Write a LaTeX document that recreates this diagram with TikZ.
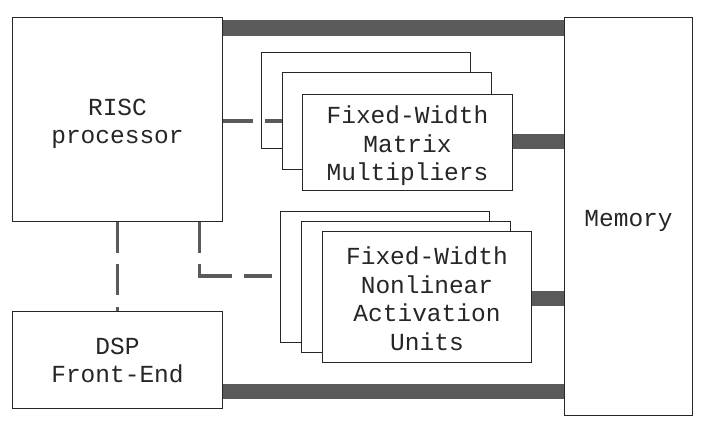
\documentclass[tikz,border=0pt]{standalone}
\usepackage{fontspec}
\setmonofont{Liberation Mono}
\definecolor{busgray}{RGB}{90,90,90}
\newcommand\btext[2][3pt]{\raisebox{-#1}[\height][\depth]{\begin{tabular}{@{}c@{}}#2\end{tabular}}}
\begin{document}
\begin{tikzpicture}[x=1pt,y=-1pt,
  box/.style={draw=black!85, line width=1pt, fill=white, inner sep=0pt,
    anchor=north west, align=center, text=black!85,
    font=\ttfamily\fontsize{24.5}{28.5}\selectfont},
  bus/.style={draw=busgray, line width=15.5pt},
  dashline/.style={draw=busgray, line width=3.5pt}]
\useasboundingbox (0,0) rectangle (706,425);
% main blocks
\node[box, minimum width=210pt, minimum height=204pt] (risc) at (12,17) {\btext[4.5pt]{RISC\\processor}};
\node[box, minimum width=128pt, minimum height=398pt] (mem) at (564,17) {\btext[4pt]{Memory}};
\node[box, minimum width=210pt, minimum height=97pt] (dsp) at (12,311) {\btext[3pt]{DSP\\Front-End}};
% matrix multiplier stack
\node[box, minimum width=209pt, minimum height=96pt] (mb) at (261,52) {};
\node[box, minimum width=209pt, minimum height=97pt] (mm) at (282,72) {};
\node[box, minimum width=210pt, minimum height=96pt] (mf) at (302,94) {\btext[4pt]{Fixed-Width\\Matrix\\Multipliers}};
% nonlinear stack
\node[box, minimum width=209pt, minimum height=131pt] (nb) at (280,211) {};
\node[box, minimum width=209pt, minimum height=131pt] (nm) at (301,221) {};
\node[box, minimum width=209pt, minimum height=131pt] (nf) at (322,231) {\btext[5pt]{Fixed-Width\\Nonlinear\\Activation\\Units}};
% buses
\draw[bus] ([yshift=-11pt]risc.north east) -- ([yshift=-11pt]mem.north west);
\draw[bus] ([yshift=1pt]mf.east) -- ([yshift=1pt]mf.east -| mem.west);
\draw[bus] ([yshift=-1.5pt]nf.east) -- ([yshift=-1.5pt]nf.east -| mem.west);
\coordinate (dspbus) at ([yshift=-31.5pt]dsp.east);
\draw[bus] (dspbus) -- (dspbus -| mem.west);
% control links
\draw[dashline, dash pattern=on 30pt off 12pt on 30pt] (risc.east |- mm.west) -- (mm.west);
\coordinate (nlend) at (272,276);
\draw[dashline, dash pattern=on 31pt off 11pt on 44pt off 12pt on 40pt] ([xshift=-23.5pt]risc.south east) |- (nlend);
\draw[dashline, dash pattern=on 31pt off 11pt on 31pt off 12pt on 10pt] (risc.south) -- (dsp.north);
\end{tikzpicture}
\end{document}
